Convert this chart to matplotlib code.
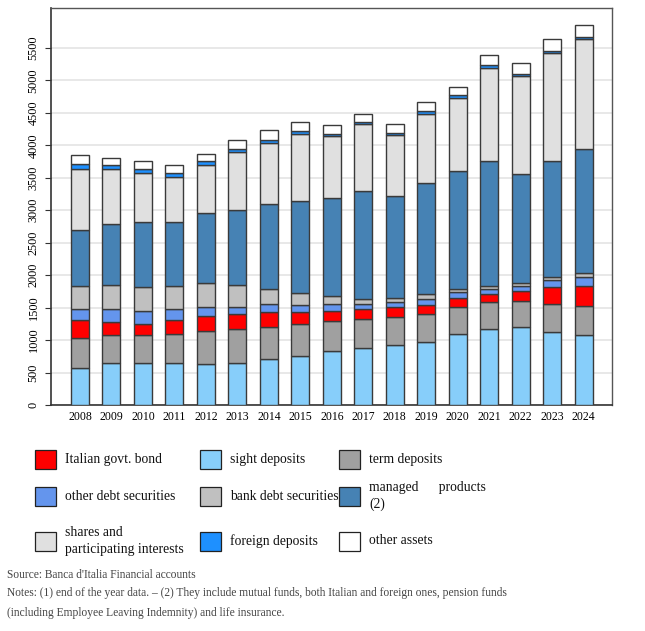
import numpy as np
import matplotlib
matplotlib.use("Agg")
import matplotlib.pyplot as plt
from matplotlib.patches import Rectangle

plt.rcParams['font.family'] = ['Liberation Serif', 'DejaVu Serif']

years = [str(y) for y in range(2008, 2025)]

sight_top = [574, 641, 651, 641, 631, 651, 703, 759, 831, 882, 918, 974, 1087, 1169, 1195, 1118, 1077]
term_top = [1026, 1077, 1077, 1087, 1144, 1164, 1205, 1241, 1297, 1328, 1349, 1410, 1513, 1590, 1605, 1549, 1528]
govt_top = [1308, 1282, 1256, 1308, 1369, 1395, 1426, 1426, 1451, 1477, 1503, 1538, 1656, 1718, 1754, 1820, 1836]
otherdebt_top = [1477, 1477, 1446, 1472, 1513, 1513, 1554, 1538, 1549, 1564, 1590, 1631, 1744, 1795, 1836, 1923, 1974]
bank_top = [1836, 1856, 1820, 1841, 1877, 1856, 1795, 1728, 1687, 1641, 1656, 1708, 1780, 1831, 1872, 1974, 2026]
managed_top = [2692, 2795, 2820, 2820, 2964, 3010, 3092, 3138, 3190, 3297, 3226, 3420, 3600, 3759, 3564, 3759, 3949]
shares_top = [3631, 3631, 3579, 3513, 3702, 3892, 4041, 4179, 4143, 4323, 4154, 4487, 4728, 5195, 5061, 5420, 5631]
foreign_top = [3718, 3702, 3631, 3579, 3759, 3949, 4077, 4220, 4179, 4359, 4195, 4528, 4769, 5231, 5102, 5451, 5667]
total = [3846, 3810, 3759, 3692, 3872, 4077, 4231, 4359, 4318, 4487, 4323, 4666, 4897, 5384, 5272, 5641, 5856]

tops = [sight_top, term_top, govt_top, otherdebt_top, bank_top,
        managed_top, shares_top, foreign_top, total]
series_names = ['sight deposits', 'term deposits', 'Italian govt. bond',
                'other debt securities', 'bank debt securities',
                'managed      products\n(2)', 'shares and\nparticipating interests',
                'foreign deposits', 'other assets']
colors = ['#87CEFA', '#A0A0A0', '#FF0000', '#6495ED', '#C0C0C0',
          '#4682B4', '#E0E0E0', '#1E90FF', '#FFFFFF']

fig = plt.figure(figsize=(6.45, 6.31), dpi=100)
ax = fig.add_axes([0.0786, 0.358, 0.8704, 0.629])

x = np.arange(len(years))
prev = np.zeros(len(years))
for top, col in zip(tops, colors):
    top = np.array(top, dtype=float)
    ax.bar(x, top - prev, bottom=prev, width=0.57, color=col,
           edgecolor='#3a3a3a', linewidth=1.0, zorder=3)
    prev = top

ax.set_xlim(-0.93, len(years) - 1 + 0.9)
ax.set_ylim(0, 6110)
ax.set_yticks(np.arange(0, 5501, 500))
ax.set_xticks(x)
ax.set_xticklabels(years, fontsize=8.5)
for lab in ax.get_yticklabels():
    lab.set_rotation(90)
    lab.set_va('center')
    lab.set_fontsize(8.8)
ax.tick_params(axis='y', length=4, color='#333333', pad=4)
ax.tick_params(axis='x', length=0, pad=4)
ax.grid(axis='y', color='#E4E4E4', linewidth=1.2, zorder=0)
for side in ['left', 'bottom']:
    ax.spines[side].set_color('#333333')
    ax.spines[side].set_linewidth(1.2)
for side in ['top', 'right']:
    ax.spines[side].set_color('#555555')
    ax.spines[side].set_linewidth(1.0)

# legend, three rows read left to right
legend_order = [2, 0, 1, 3, 4, 5, 6, 7, 8]
col_x = [35, 200, 339]
row_y = [459, 496, 541]
W, H = 645.0, 631.0
for i, k in enumerate(legend_order):
    cx = col_x[i % 3]
    cy = row_y[i // 3]
    fig.add_artist(Rectangle((cx / W, 1 - (cy + 9.5) / H), 21 / W, 19 / H,
                             transform=fig.transFigure, facecolor=colors[k],
                             edgecolor='#222222', linewidth=0.9))
    fig.text((cx + 30) / W, 1 - cy / H, series_names[k], fontsize=9.8,
             va='center', ha='left', linespacing=1.4, color='#111111')

fig.text(7 / W, 1 - 575 / H, "Source: Banca d'Italia Financial accounts",
         fontsize=8.3, color='#444444', va='center')
fig.text(7 / W, 1 - 593 / H,
         "Notes: (1) end of the year data. \u2013 (2) They include mutual funds, both Italian and foreign ones, pension funds",
         fontsize=8.3, color='#444444', va='center')
fig.text(7 / W, 1 - 613 / H,
         "(including Employee Leaving Indemnity) and life insurance.",
         fontsize=8.3, color='#444444', va='center')

fig.savefig('out.png', dpi=100)
